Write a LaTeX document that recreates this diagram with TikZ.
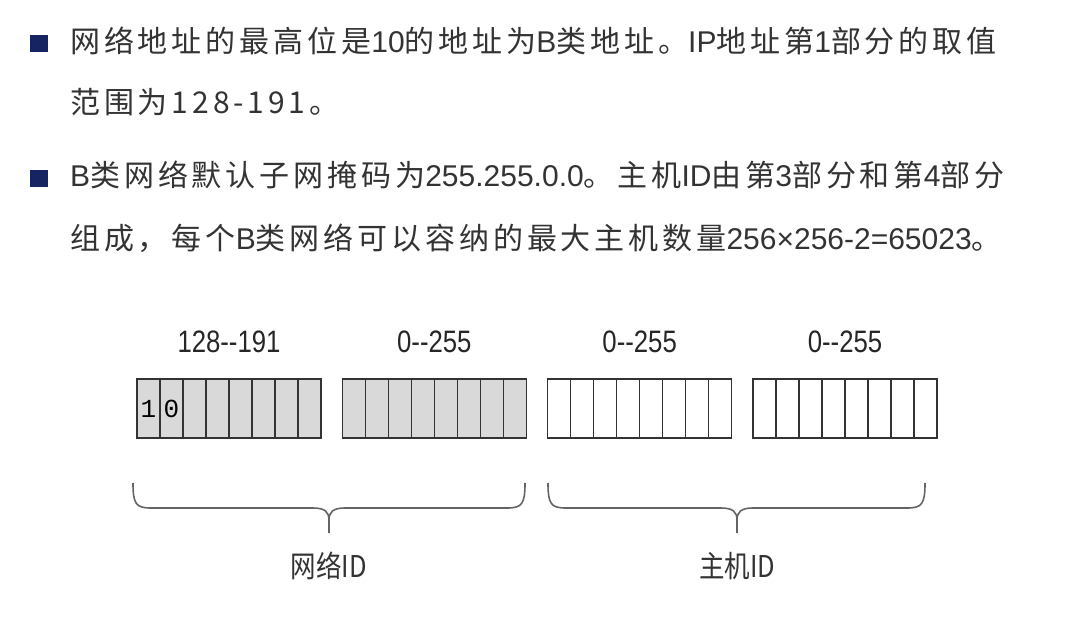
\documentclass[tikz,border=0pt]{standalone}
\usepackage{fontspec}
\setmainfont{Noto Sans CJK SC}[LetterSpace=13]
\newfontfamily\latinfont{Liberation Sans}
\newfontfamily\idfont{Noto Sans CJK SC}[FakeStretch=0.85]
\newfontfamily\rangefont{Liberation Sans}[FakeStretch=0.83]
\newfontfamily\bitfont{Liberation Mono}
\newcommand\nosp[1]{{\latinfont #1}}
\usetikzlibrary{positioning}
\definecolor{bulletblue}{RGB}{22,36,98}
\definecolor{textgray}{RGB}{51,51,51}
\definecolor{cellgray}{RGB}{217,217,217}
\definecolor{bracegray}{RGB}{100,100,100}
\tikzset{
  bullet/.style={fill=bulletblue,minimum size=17.5pt,inner sep=0pt},
  para/.style={anchor=base west,inner sep=0pt,text=textgray,font=\fontsize{30}{36}\selectfont},
  bitcell/.style={draw=black!80,line width=1.4pt,minimum width=23pt,minimum height=59pt,
    inner sep=0pt,font=\bitfont\fontsize{26}{28}\selectfont},
  rangelbl/.style={inner sep=0pt,text=black!85,font=\rangefont\fontsize{31}{34}\selectfont},
  idlbl/.style={inner sep=0pt,text=black!80,font=\idfont\fontsize{30}{32}\selectfont},
  brace/.style={draw=bracegray,line width=1.6pt}
}
\begin{document}
\begin{tikzpicture}[x=1pt,y=1pt]
  \fill[white] (0,0) rectangle (1067,616);
  \useasboundingbox (0,0) rectangle (1067,616);

  \node[bullet] (b1) at (39,572.3) {};
  \node[bullet] (b2) at (39,437.7) {};
  \node[para] (l1) at (70,563) {网络地址的最高位是\nosp{10}的地址为\nosp{B}类地址。\nosp{IP}地址第\nosp{1}部分的取值};
  \node[para] (l2) at (70,502) {范围为128-191。};
  \node[para] (l3) at (70,429) {\nosp{B}类网络默认子网掩码为\nosp{255.255.0.0}。主机\nosp{ID}由第\nosp{3}部分和第\nosp{4}部分};
  \node[para] (l4) at (70,366) {组成，每个\nosp{B}类网络可以容纳的最大主机数量\nosp{256×256-2=65023}。};

  \foreach \b/\fc/\rng in {1/cellgray/128-{}-191,2/cellgray/0-{}-255,3/white/0-{}-255,4/white/0-{}-255}{
    \pgfmathsetmacro\lft{137+(\b-1)*205.33}
    \foreach \i in {0,...,7}
      \node[bitcell,fill=\fc] (c\b\i) at (\lft+11.5+23*\i,207.5) {};
    \node[rangelbl] (r\b) at (\lft+92,274) {\rng};
  }
  \node[font=\bitfont\fontsize{26}{28}\selectfont,inner sep=0pt] (bit1) at (c10) {1};
  \node[font=\bitfont\fontsize{26}{28}\selectfont,inner sep=0pt] (bit0) at (c11) {0};

  \foreach \n/\xa/\xm/\xb in {net/133/329/525,host/548/737/925}{
    \coordinate (\n L) at (\xa,133);
    \coordinate (\n R) at (\xb,133);
    \coordinate (\n T) at (\xm,83);
    \draw[brace] (\n L) .. controls (\xa,112) and (\xa+3,108) .. (\xa+18,108)
      -- (\xm-16,108) .. controls (\xm-4,108) and (\xm,104) .. (\xm,96) -- (\n T)
      (\xm,96) .. controls (\xm,104) and (\xm+4,108) .. (\xm+16,108)
      -- (\xb-18,108) .. controls (\xb-3,108) and (\xb,112) .. (\n R);
  }
  \node[idlbl,below=19pt of netT] (netid) {网络ID};
  \node[idlbl,below=19pt of hostT] (hostid) {主机ID};
\end{tikzpicture}
\end{document}
